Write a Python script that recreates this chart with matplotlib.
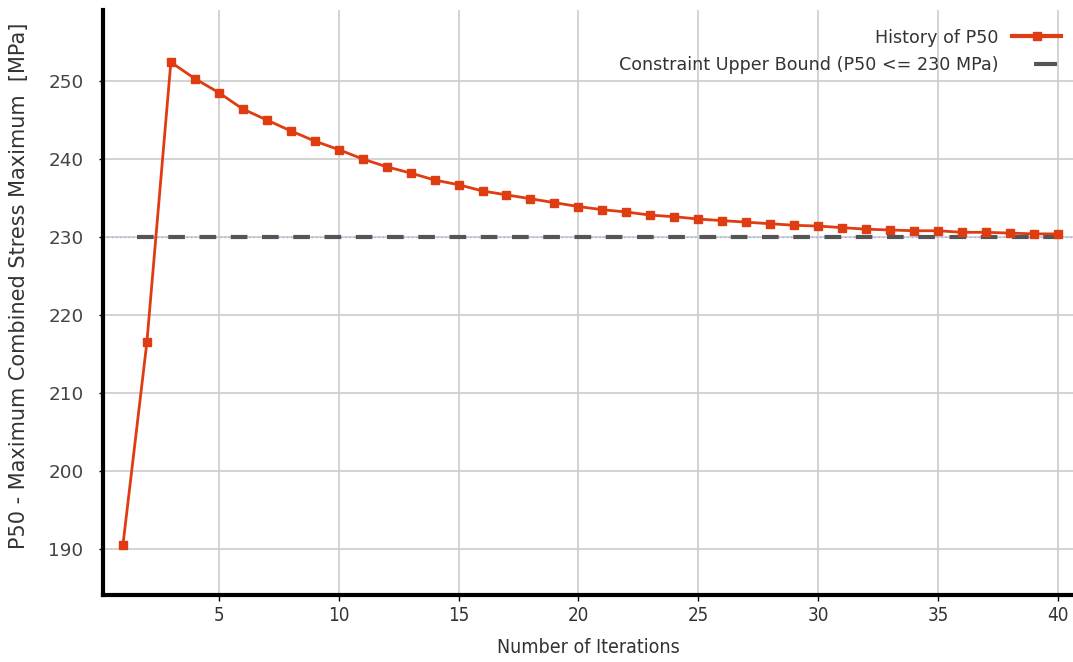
import matplotlib.pyplot as plt
from matplotlib.lines import Line2D

# data
iterations = list(range(1, 41))
p50_history = [190.5, 216.5, 252.4, 250.3, 248.5, 246.4, 245.0, 243.6, 242.3, 241.2,
               240.0, 239.0, 238.2, 237.3, 236.7, 235.9, 235.4, 234.9, 234.4, 233.9,
               233.5, 233.2, 232.8, 232.6, 232.3, 232.1, 231.9, 231.7, 231.5, 231.4,
               231.2, 231.0, 230.9, 230.8, 230.8, 230.6, 230.6, 230.5, 230.4, 230.4]
upper_bound = 230
x_ticks = [5, 10, 15, 20, 25, 30, 35, 40]
y_ticks = [190, 200, 210, 220, 230, 240, 250]

plt.rcParams.update({'font.size': 12, 'font.family': 'DejaVu Sans'})

fig = plt.figure(figsize=(10.73, 6.62), dpi=100)
ax = fig.add_axes([0.096, 0.101, 0.904, 0.884])

# faint blue guide and dashed constraint line
ax.axhline(upper_bound, color="#8888ff", lw=1, ls=(0, (1, 2)), alpha=0.6, zorder=1)
ax.plot([1.6, 40], [upper_bound, upper_bound], color="#555555", lw=3,
        ls=(0, (4, 3.5)), zorder=2)
ax.plot(iterations, p50_history, color="#e03c12", lw=2, marker="s", ms=6, zorder=3)

ax.set_xlim(0.17, 40.63)
ax.set_ylim(184.1, 259.1)
ax.set_xticks(x_ticks)
ax.set_yticks(y_ticks)
ax.grid(True, color="#cccccc", lw=1.2)
ax.set_axisbelow(True)

for side in ["top", "right"]:
    ax.spines[side].set_visible(False)
for side in ["left", "bottom"]:
    ax.spines[side].set_linewidth(3)
    ax.spines[side].set_color("black")

ax.tick_params(axis="y", labelsize=13.2, colors="black", length=3, width=1, pad=11)
for lbl in ax.get_yticklabels():
    lbl.set_color("#444444")
ax.tick_params(axis="x", length=4, width=1, pad=4)
for lbl in ax.get_xticklabels():
    lbl.set_fontstretch("condensed")
    lbl.set_fontsize(13.5)
    lbl.set_color("#333333")

ax.set_xlabel("Number of Iterations", fontsize=14, fontstretch="condensed",
              color="#333333", labelpad=9)
ax.set_ylabel("P50 - Maximum Combined Stress Maximum  [MPa]", fontsize=15,
              color="#333333")
ax.yaxis.set_label_coords(-0.076, 0.528)

# legend handles (text left, handle right)
h_hist = Line2D([], [], color="#e03c12", lw=3, marker="s", ms=6)
h_bound = Line2D([], [], color="#555555", lw=3, ls=(5.5, (5.5, 5.3)))
leg = ax.legend([h_hist, h_bound],
                ["History of P50", "Constraint Upper Bound (P50 <= 230 MPa)"],
                loc="upper right", frameon=False, markerfirst=False, fontsize=12.6,
                handlelength=2.8, handletextpad=0.8, labelspacing=0.55,
                bbox_to_anchor=(1.004, 0.995))
for t in leg.get_texts():
    t.set_color("#333333")

fig.savefig("out.png", dpi=100)
